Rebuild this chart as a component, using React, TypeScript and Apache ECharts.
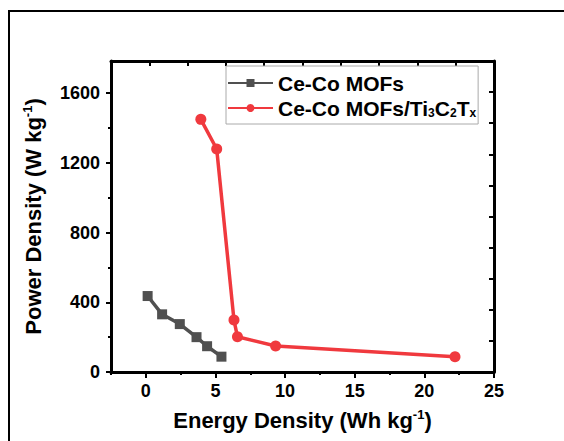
import React, { useEffect, useRef } from "react";
import * as echarts from "echarts";

const seriesNames = ["Ce-Co MOFs", "Ce-Co MOFs/Ti3C2Tx"];
const energyA = [0.13, 1.17, 2.44, 3.64, 4.4, 5.43];
const powerA = [436, 331, 275, 200, 148, 88];
const energyB = [3.95, 5.09, 6.33, 6.58, 9.32, 22.2];
const powerB = [1450, 1280, 298, 202, 149, 88];
const xTicks = [0, 5, 10, 15, 20, 25];
const xMinorTicks = [-2.5, 2.5, 7.5, 12.5, 17.5, 22.5];
const yTicks = [0, 400, 800, 1200, 1600];
const yMinorTicks = [200, 600, 1000, 1400];

const FONT = 'Arial, "Liberation Sans", sans-serif';
const GRAY = "#505050";
const RED = "#f0393e";

export default function App() {
  const ref = useRef<HTMLDivElement>(null);
  useEffect(() => {
    if (!ref.current) return;
    const chart = echarts.init(ref.current, null, { renderer: "svg" });
    const lineAxis = { show: true, onZero: false, lineStyle: { color: "#000", width: 3 } };
    const titleStyle = {
      fontFamily: FONT,
      fontWeight: "bold",
      fontSize: 22,
      color: "#000",
      lineHeight: 24,
      rich: {
        sup: { fontFamily: FONT, fontWeight: "bold", fontSize: 13, color: "#000", lineHeight: 24, verticalAlign: "top", padding: [0, 0, 9, 0] },
      },
    };
    const option: any = {
      animation: false,
      backgroundColor: "#fff",
      grid: { left: 111, right: 70, top: 61, bottom: 69, containLabel: false },
      graphic: [
        {
          type: "rect",
          shape: { x: 9, y: 11, width: 620, height: 500 },
          style: { fill: "none", stroke: "#000", lineWidth: 2 },
          silent: true,
        },
      ],
      legend: {
        orient: "vertical",
        left: 226,
        top: 66,
        itemWidth: 45,
        itemHeight: 10,
        itemGap: 3,
        padding: [6, 2, 5, 1],
        borderColor: "#aaa",
        borderWidth: 1,
        data: seriesNames,
        formatter: (n: string) =>
          n === seriesNames[1] ? "Ce-Co MOFs/Ti{sub|3}C{sub|2}T{sub|x}" : n,
        textStyle: {
          fontFamily: FONT,
          fontWeight: "bold",
          fontSize: 21,
          color: "#000",
          lineHeight: 22,
          rich: {
            sub: {
              fontFamily: FONT,
              fontWeight: "bold",
              fontSize: 12,
              color: "#000",
              lineHeight: 22,
              verticalAlign: "bottom",
              padding: [9, 0, 0, 0],
            },
          },
        },
      },
      xAxis: [
        {
          type: "value",
          position: "bottom",
          min: -2.5,
          max: 25,
          axisLine: lineAxis,
          splitLine: { show: false },
          axisTick: { show: true, customValues: xTicks, length: 6, lineStyle: { width: 2, color: "#000" } },
          axisLabel: {
            customValues: xTicks,
            formatter: (v: number) => String(v),
            fontFamily: FONT,
            fontWeight: "bold",
            fontSize: 18,
            color: "#000",
            margin: 10,
          },
          name: "Energy Density (Wh kg{sup|-1})",
          nameLocation: "middle",
          nameGap: 36,
          nameTextStyle: titleStyle,
        },
        {
          type: "value",
          position: "bottom",
          min: -2.5,
          max: 25,
          axisLine: { show: false, onZero: false },
          splitLine: { show: false },
          axisTick: { show: true, customValues: xMinorTicks, length: 3, lineStyle: { width: 2, color: "#000" } },
          axisLabel: { show: false },
        },
        {
          type: "value",
          position: "top",
          min: 0,
          max: 10,
          interval: 1,
          axisLine: lineAxis,
          splitLine: { show: false },
          axisTick: { show: true, inside: true, length: 5, lineStyle: { width: 2, color: "#000" } },
          axisLabel: { show: false },
        },
      ],
      yAxis: [
        {
          type: "value",
          position: "left",
          min: 0,
          max: 1785,
          axisLine: lineAxis,
          splitLine: { show: false },
          axisTick: { show: true, customValues: yTicks, length: 5, lineStyle: { width: 2, color: "#000" } },
          axisLabel: {
            customValues: yTicks,
            formatter: (v: number) => String(v),
            fontFamily: FONT,
            fontWeight: "bold",
            fontSize: 18,
            color: "#000",
            margin: 11,
          },
          name: "Power Density (W kg{sup|-1})",
          nameLocation: "middle",
          nameGap: 66,
          nameTextStyle: titleStyle,
        },
        {
          type: "value",
          position: "left",
          min: 0,
          max: 1785,
          axisLine: { show: false, onZero: false },
          splitLine: { show: false },
          axisTick: { show: true, customValues: yMinorTicks, length: 3, lineStyle: { width: 2, color: "#000" } },
          axisLabel: { show: false },
        },
        {
          type: "value",
          position: "right",
          min: 0,
          max: 10,
          interval: 1,
          axisLine: lineAxis,
          splitLine: { show: false },
          axisTick: { show: true, inside: true, length: 5, lineStyle: { width: 2, color: "#000" } },
          axisLabel: { show: false },
        },
      ],
      series: [
        {
          name: seriesNames[0],
          type: "line",
          xAxisIndex: 0,
          yAxisIndex: 0,
          data: energyA.map((e, i) => [e, powerA[i]]),
          symbol: "rect",
          symbolSize: 10,
          color: GRAY,
          lineStyle: { width: 3.5, color: GRAY },
          itemStyle: { color: GRAY },
        },
        {
          name: seriesNames[1],
          type: "line",
          xAxisIndex: 0,
          yAxisIndex: 0,
          data: energyB.map((e, i) => [e, powerB[i]]),
          symbol: "circle",
          symbolSize: 11,
          color: RED,
          lineStyle: { width: 3.5, color: RED },
          itemStyle: { color: RED },
        },
      ],
    };
    chart.setOption(option);
    return () => chart.dispose();
  }, []);
  return (
    <div
      ref={ref}
      style={{ position: "fixed", left: 0, top: 0, width: 564, height: 441 }}
    />
  );
}
